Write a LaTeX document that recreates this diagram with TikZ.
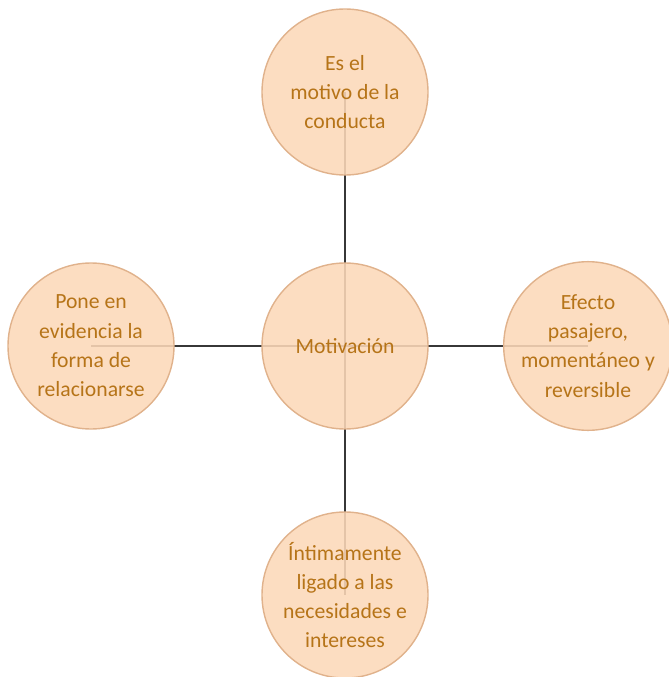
\documentclass[tikz,border=0pt]{standalone}
\usepackage{fontspec}
\setmainfont{Carlito}
\usetikzlibrary{backgrounds}
\definecolor{mypeach}{RGB}{252,216,184}
\definecolor{myrim}{RGB}{224,178,140}
\definecolor{mytext}{RGB}{182,116,24}
\definecolor{myline}{RGB}{55,55,55}
\begin{document}
\begin{tikzpicture}[%
                x=0.03cm, y=-0.03cm,
                mycircle/.style={shape=circle, minimum size=4.98cm, inner sep=0pt,
                    fill=mypeach, fill opacity=0.88, text opacity=1, draw=myrim, line width=1.2pt,
                    text=mytext, align=center, font=\fontsize{18.5}{25}\selectfont},
                myconn/.style={draw=myline, line width=1.7pt}
        ]
            \useasboundingbox (0,0) rectangle (668,677);
            \node [mycircle] (motiv)  at (345,346) {Motivación};
            \node [mycircle] (top)    at (345,92)  {Es el\\motivo de la\\conducta};
            \node [mycircle] (left)   at (91,346)  {Pone en\\evidencia la\\forma de\\relacionarse};
            \node [mycircle] (right)  at (588,346) {Efecto\\pasajero,\\momentáneo y\\reversible};
            \node [mycircle] (bottom) at (345,595) {Íntimamente\\ligado a las\\necesidades e\\intereses};
            \begin{scope}[on background layer]
                \foreach \mynode in {top,left,right,bottom}
                \draw [myconn] (motiv.center) -- (\mynode.center);
            \end{scope}
        \end{tikzpicture}
\end{document}
